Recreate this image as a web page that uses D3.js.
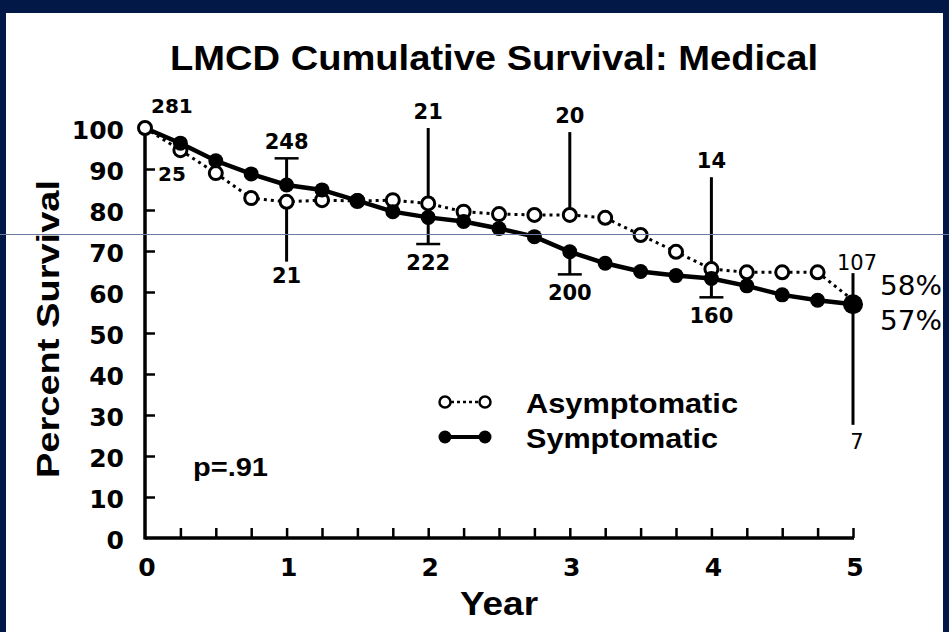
<!DOCTYPE html>
<html>
<head>
<meta charset="utf-8">
<script src="https://cdn.jsdelivr.net/npm/d3@7"></script>
<style>
  html, body { margin: 0; padding: 0; background: #021846; }
  svg { display: block; }
</style>
</head>
<body>
<svg id="chart" width="949" height="632"></svg>
<script>
// Follow-up time points (years), every quarter year
const years = d3.range(0, 5.001, 0.25);

// Cumulative survival (%) per group
const asymptomatic = [100, 94.6, 89.0, 82.9, 82.0, 82.4, 82.2, 82.4, 81.6, 79.6, 79.0,
                      78.8, 78.8, 78.1, 73.9, 69.8, 65.6, 64.8, 64.8, 64.8, 58];
const symptomatic  = [100, 96.3, 92.0, 88.8, 86.1, 84.9, 82.3, 79.6, 78.2, 77.2, 75.5,
                      73.5, 69.8, 67.0, 65.0, 64.0, 63.3, 61.5, 59.3, 58.0, 57];

// Confidence bars with patients at risk: [year, group, end value, capped, count]
const riskBars = [
  [1, "sym", 92.6, true, "248"],
  [1, "asym", 67.4, false, "21"],
  [2, "asym", 100, false, "21"],
  [2, "sym", 71.7, true, "222"],
  [3, "asym", 99, false, "20"],
  [3, "sym", 64.3, true, "200"],
  [4, "asym", 88, false, "14"],
  [4, "sym", 58.7, true, "160"],
  [5, "sym", 64.6, false, "107"],
  [5, "asym", 27.6, false, "7"]
];

const yTicks = d3.range(0, 101, 10);
const xTickLabels = [0, 1, 2, 3, 4, 5];
const finalLabels = ["58%", "57%"];

const svg = d3.select("#chart");
const W = 949, H = 632;

// Frame: navy surround with white plate
svg.append("rect").attr("width", W).attr("height", H).attr("fill", "#021846");
svg.append("rect").attr("x", 6).attr("y", 13).attr("width", W - 12).attr("height", H - 13).attr("fill", "#ffffff");

const x = d3.scaleLinear().domain([0, 5]).range([145, 853]);
const y = d3.scaleLinear().domain([0, 100]).range([538, 128]);

const boldFont = "'DejaVu Sans', sans-serif";
const headFont = "'Liberation Sans', Arial, sans-serif";

// Title
svg.append("text")
  .attr("x", 494).attr("y", 70)
  .attr("text-anchor", "middle")
  .attr("font-family", headFont).attr("font-weight", "bold").attr("font-size", 35)
  .attr("textLength", 648).attr("lengthAdjust", "spacingAndGlyphs")
  .text("LMCD Cumulative Survival: Medical");

// Axes
const gx = svg.append("g").attr("transform", `translate(0,${y(0)})`)
  .call(d3.axisBottom(x).tickValues(years.slice(1)).tickSize(-10).tickFormat(""));
const gy = svg.append("g").attr("transform", `translate(${x(0)},0)`)
  .call(d3.axisLeft(y).tickValues(yTicks.slice(1, 10)).tickSize(-10).tickFormat(""));
[gx, gy].forEach(g => {
  g.select(".domain").remove();
  g.selectAll(".tick line").attr("stroke", "#000").attr("stroke-width", 2.5);
});
svg.append("line").attr("x1", x(0)).attr("x2", x(5) + 1)
  .attr("y1", y(0)).attr("y2", y(0)).attr("stroke", "#000").attr("stroke-width", 3.5);
svg.append("line").attr("x1", x(0)).attr("x2", x(0))
  .attr("y1", y(0) + 1.5).attr("y2", y(100)).attr("stroke", "#000").attr("stroke-width", 3.5);

// Tick labels
svg.append("g").selectAll("text").data(yTicks).join("text")
  .attr("x", 124).attr("y", d => y(d) + 2)
  .attr("text-anchor", "end").attr("dominant-baseline", "central")
  .attr("font-family", boldFont).attr("font-weight", "bold").attr("font-size", 25)
  .text(d => d);
svg.append("g").selectAll("text").data(xTickLabels).join("text")
  .attr("x", d => x(d) + 2).attr("y", 567)
  .attr("text-anchor", "middle").attr("dominant-baseline", "central")
  .attr("font-family", boldFont).attr("font-weight", "bold").attr("font-size", 25)
  .text(d => d);

// Axis titles
svg.append("text")
  .attr("transform", `translate(59,329) rotate(-90)`)
  .attr("text-anchor", "middle")
  .attr("font-family", headFont).attr("font-weight", "bold").attr("font-size", 32)
  .attr("textLength", 298).attr("lengthAdjust", "spacingAndGlyphs")
  .text("Percent Survival");
svg.append("text")
  .attr("x", 499).attr("y", 615)
  .attr("text-anchor", "middle")
  .attr("font-family", headFont).attr("font-weight", "bold").attr("font-size", 34)
  .attr("textLength", 78).attr("lengthAdjust", "spacingAndGlyphs")
  .text("Year");

// Survival curves
const line = d3.line().x((d, i) => x(years[i])).y(d => y(d));
svg.append("path").datum(asymptomatic).attr("d", line)
  .attr("fill", "none").attr("stroke", "#000").attr("stroke-width", 3)
  .attr("stroke-dasharray", "3,4");
svg.append("path").datum(symptomatic).attr("d", line)
  .attr("fill", "none").attr("stroke", "#000").attr("stroke-width", 4.5);

// Confidence bars and numbers at risk
const seriesOf = g => g === "sym" ? symptomatic : asymptomatic;
riskBars.forEach(([yr, grp, end, capped, n]) => {
  const i = Math.round(yr * 4);
  const v = seriesOf(grp)[i];
  const cx = x(yr);
  svg.append("line").attr("x1", cx).attr("x2", cx)
    .attr("y1", y(v)).attr("y2", y(end))
    .attr("stroke", "#000").attr("stroke-width", 3);
  if (capped) {
    svg.append("line").attr("x1", cx - 12).attr("x2", cx + 12)
      .attr("y1", y(end)).attr("y2", y(end))
      .attr("stroke", "#000").attr("stroke-width", 2.5);
  }
  const up = end > v;
  const small = yr === 5;
  let dy;
  if (up) dy = small ? -10 : -16;
  else dy = small ? 17 : (capped ? 19 : 14);
  svg.append("text")
    .attr("x", cx + (small ? 4 : 0))
    .attr("y", y(end) + dy)
    .attr("text-anchor", "middle").attr("dominant-baseline", "central")
    .attr("font-family", boldFont).attr("font-weight", small ? "normal" : "bold")
    .attr("font-size", 21)
    .text(n);
});

// Starting numbers at risk
svg.append("text").attr("x", 151).attr("y", 106).attr("dominant-baseline", "central")
  .attr("font-family", boldFont).attr("font-weight", "bold").attr("font-size", 20).text("281");
svg.append("text").attr("x", 158).attr("y", 174).attr("dominant-baseline", "central")
  .attr("font-family", boldFont).attr("font-weight", "bold").attr("font-size", 20).text("25");

// Markers
svg.append("g").selectAll("circle").data(asymptomatic).join("circle")
  .attr("cx", (d, i) => x(years[i])).attr("cy", d => y(d))
  .attr("r", (d, i) => i === asymptomatic.length - 1 ? 0 : 6.5)
  .attr("fill", "#fff").attr("stroke", "#000").attr("stroke-width", 3);
svg.append("g").selectAll("circle").data(symptomatic).join("circle")
  .attr("cx", (d, i) => x(years[i])).attr("cy", d => y(d))
  .attr("r", (d, i) => i === 0 ? 0 : (i === symptomatic.length - 1 ? 10 : 7.5))
  .attr("fill", "#000");

// Final survival figures
finalLabels.forEach((t, k) => {
  svg.append("text").attr("x", 880).attr("y", 286 + k * 35).attr("dominant-baseline", "central")
    .attr("font-family", boldFont).attr("font-size", 26)
    .attr("textLength", 62).attr("lengthAdjust", "spacingAndGlyphs")
    .text(t);
});

// Legend
const legend = svg.append("g");
const legendRows = [
  { label: "Asymptomatic", open: true, yy: 402, len: 212 },
  { label: "Symptomatic", open: false, yy: 437, len: 192 }
];
legendRows.forEach(r => {
  legend.append("line").attr("x1", 445).attr("x2", 485).attr("y1", r.yy).attr("y2", r.yy)
    .attr("stroke", "#000").attr("stroke-width", r.open ? 2.5 : 4)
    .attr("stroke-dasharray", r.open ? "3,3" : null);
  [445, 485].forEach(cx => {
    legend.append("circle").attr("cx", cx).attr("cy", r.yy).attr("r", r.open ? 5.5 : 6.5)
      .attr("fill", r.open ? "#fff" : "#000").attr("stroke", "#000").attr("stroke-width", r.open ? 2.5 : 0);
  });
  legend.append("text").attr("x", 526).attr("y", r.yy + 1).attr("dominant-baseline", "central")
    .attr("font-family", headFont).attr("font-weight", "bold").attr("font-size", 28)
    .attr("textLength", r.len).attr("lengthAdjust", "spacingAndGlyphs")
    .text(r.label);
});

// Log-rank p value
svg.append("text").attr("x", 193).attr("y", 467).attr("dominant-baseline", "central")
  .attr("font-family", headFont).attr("font-weight", "bold").attr("font-size", 26)
  .attr("textLength", 75).attr("lengthAdjust", "spacingAndGlyphs")
  .text("p=.91");

// Thin rule across the plate
svg.append("line").attr("x1", 0).attr("x2", W).attr("y1", 234.5).attr("y2", 234.5)
  .attr("stroke", "#6a7aa0").attr("stroke-width", 1);
</script>
</body>
</html>
